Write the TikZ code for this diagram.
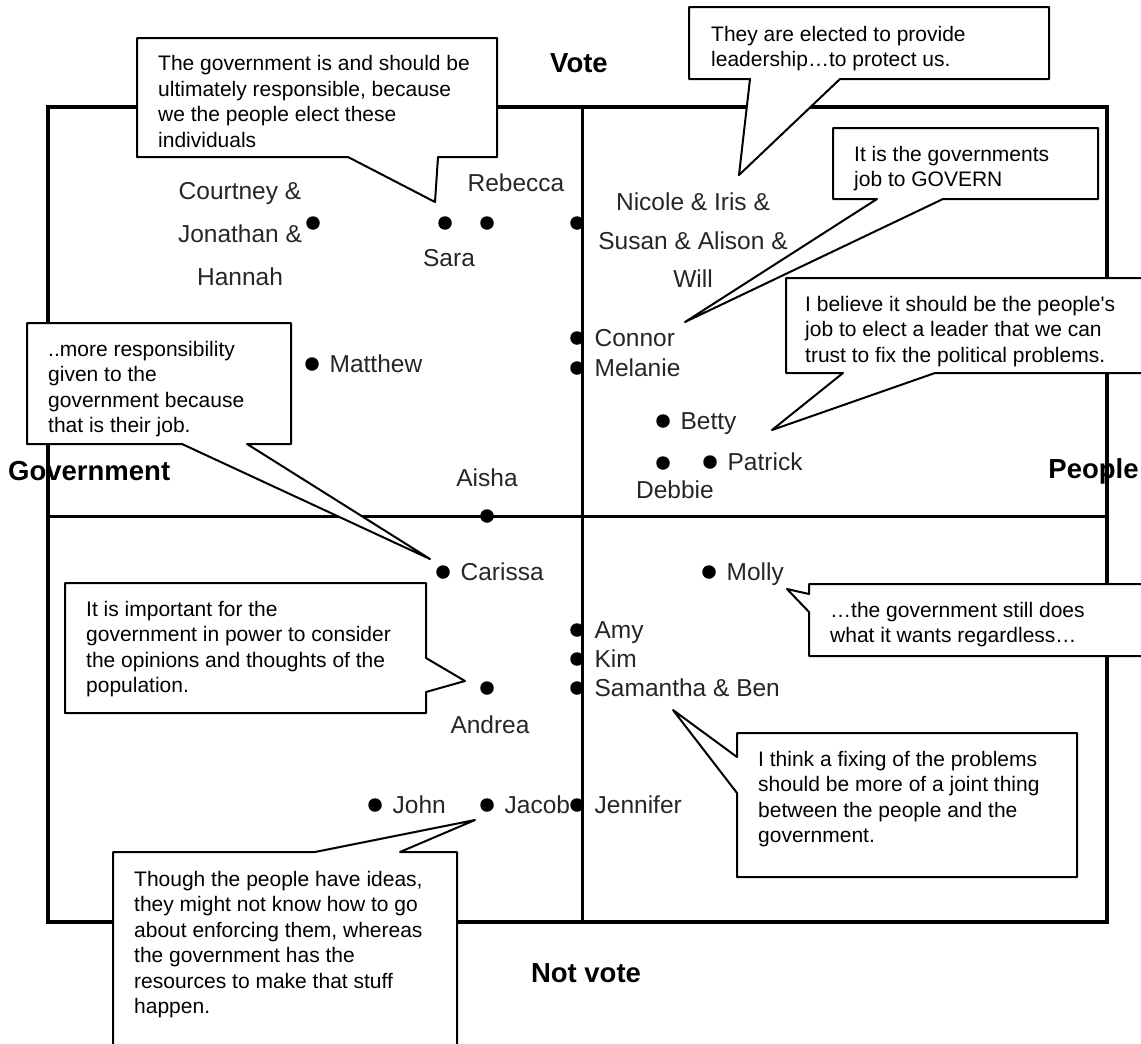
\documentclass[tikz,border=0pt]{standalone}
\usepackage{fontspec}
\setmainfont{Liberation Sans}
\usetikzlibrary{positioning}
\newcommand{\quotefont}{\fontsize{21}{25.5}\selectfont}
\newcommand{\whofont}{\fontsize{24.5}{38.5}\selectfont}
\newcommand{\axisfont}{\fontsize{27.5}{30}\selectfont\bfseries}
\tikzstyle{outer} = [line width=4pt]
\tikzstyle{divider} = [line width=3pt]
\tikzstyle{spot} = [circle, fill=black, inner sep=0pt, minimum size=13.5pt]
\tikzstyle{who} = [font=\whofont, text=black!85, inner sep=0pt, text height=17.5pt, text depth=0pt]
\tikzstyle{whogroup} = [font=\whofont, text=black!85, inner sep=0pt, align=center, anchor=north]
\tikzstyle{axislabel} = [font=\axisfont, inner sep=0pt, text height=19.7pt, text depth=0pt]
\tikzstyle{bubble} = [draw=black, fill=white, line width=2pt, line join=round]
\tikzstyle{quote} = [font=\quotefont, align=left, anchor=north west, inner sep=0pt]

\begin{document}
\begin{tikzpicture}[x=1pt, y=-1pt]
		\useasboundingbox (0,0) rectangle (1141,1044);
		\clip (0,0) rectangle (1141,1044);
		
		\node [axislabel] (vote) at (579,62.5) {Vote};
		\node [axislabel] (notvote) at (586,973) {Not vote};
		\node [axislabel, anchor=west] (govt) at (8,471) {Government};
		\node [axislabel] (people) at (1093.5,469) {People};
		
		\draw [outer] (48,107) rectangle (1107,922);
		\draw [divider] (582.5,107) -- (582.5,922);
		\draw [divider] (48,516) -- (1107,516);
		
		% callouts
		\draw [bubble] (137,38) -- (497,38) -- (497,157) -- (438,157) -- (435,202) -- (348,157) -- (137,157) -- cycle;
		\node [quote] (elect) at (158,55.5) {The government is and should be\\ultimately responsible, because\\we the people elect these\\individuals};
		\draw [bubble] (689,7) -- (1049,7) -- (1049,79) -- (840,79) -- (739,175) -- (750,79) -- (689,79) -- cycle;
		\node [quote] (protect) at (711,25.7) {They are elected to provide\\leadership…to protect us.};
		\draw [bubble] (833,128) -- (1098,128) -- (1098,199) -- (943,199) -- (685,322) -- (877,199) -- (833,199) -- cycle;
		\node [quote] (govern) at (854,145.7) {It is the governments\\job to GOVERN};
		\draw [bubble] (786,278) -- (1160,278) -- (1160,373) -- (935,373) -- (772,430) -- (843,373) -- (786,373) -- cycle;
		\node [quote] (trust) at (805,296) {I believe it should be the people\textquotesingle s\\job to elect a leader that we can\\trust to fix the political problems.};
		\draw [bubble] (27,323) -- (291,323) -- (291,444) -- (247,444) -- (430,559) -- (182,444) -- (27,444) -- cycle;
		\node [quote] (theirjob) at (48,341) {..more responsibility\\given to the\\government because\\that is their job.};
		\draw [bubble] (65,583) -- (426,583) -- (426,658) -- (465,681) -- (426,692) -- (426,713) -- (65,713) -- cycle;
		\node [quote] (opinions) at (86,601) {It is important for the\\government in power to consider\\the opinions and thoughts of the\\population.};
		\draw [bubble] (809,584) -- (1160,584) -- (1160,656) -- (809,656) -- (809,612) -- (787,589) -- (809,594) -- cycle;
		\node [quote] (regardless) at (830,601.7) {…the government still does\\what it wants regardless…};
		\draw [bubble] (737,733) -- (1077,733) -- (1077,877) -- (737,877) -- (737,793) -- (673,710) -- (737,757) -- cycle;
		\node [quote] (joint) at (758,750.7) {I think a fixing of the problems\\should be more of a joint thing\\between the people and the\\government.};
		\draw [bubble] (113,852) -- (315,852) -- (475,820) -- (400,852) -- (457,852) -- (457,1060) -- (113,1060) -- cycle;
		\node [quote] (resources) at (134,870.7) {Though the people have ideas,\\they might not know how to go\\about enforcing them, whereas\\the government has the\\resources to make that stuff\\happen.};
		
		% people
		\node [spot] (courtney) at (313,223) {};
		\node [whogroup, font={\fontsize{24.5}{43}\selectfont}] (courtneyname) at (240,182) {Courtney \&\\Jonathan \&\\Hannah};
		\node [spot] (sara) at (445,223) {};
		\node [who] (saraname) at (449,258) {Sara};
		\node [spot] (rebecca) at (487,223) {};
		\node [who] (rebeccaname) at (516,183) {Rebecca};
		\node [spot] (nicole) at (577,223) {};
		\node [whogroup] (nicolename) at (693,193) {Nicole \& Iris \&\\Susan \& Alison \&\\Will};
		\node [spot] (matthew) at (312,364) {};
		\node [who, right=10.5pt of matthew] (matthewname) {Matthew};
		\node [spot] (connor) at (577,338) {};
		\node [who, right=10.5pt of connor] (connorname) {Connor};
		\node [spot] (melanie) at (577,368) {};
		\node [who, right=10.5pt of melanie] (melaniename) {Melanie};
		\node [spot] (betty) at (663,421) {};
		\node [who, right=10.5pt of betty] (bettyname) {Betty};
		\node [spot] (debbie) at (663,463) {};
		\node [who] (debbiename) at (675,490) {Debbie};
		\node [spot] (patrick) at (710,462) {};
		\node [who, right=10.5pt of patrick] (patrickname) {Patrick};
		\node [spot] (aisha) at (487,516) {};
		\node [who] (aishaname) at (487,478) {Aisha};
		\node [spot] (carissa) at (443,572) {};
		\node [who, right=10.5pt of carissa] (carissaname) {Carissa};
		\node [spot] (molly) at (709,572) {};
		\node [who, right=10.5pt of molly] (mollyname) {Molly};
		\node [spot] (amy) at (577,630) {};
		\node [who, right=10.5pt of amy] (amyname) {Amy};
		\node [spot] (kim) at (577,659) {};
		\node [who, right=10.5pt of kim] (kimname) {Kim};
		\node [spot] (samantha) at (577,688) {};
		\node [who, right=10.5pt of samantha] (samanthaname) {Samantha \& Ben};
		\node [spot] (andrea) at (487,688) {};
		\node [who] (andreaname) at (490,725) {Andrea};
		\node [spot] (john) at (375,805) {};
		\node [who, right=10.5pt of john] (johnname) {John};
		\node [spot] (jacob) at (487,805) {};
		\node [who, right=10.5pt of jacob] (jacobname) {Jacob};
		\node [spot] (jennifer) at (577,805) {};
		\node [who, right=10.5pt of jennifer] (jennifername) {Jennifer};
		
		\end{tikzpicture}
\end{document}
